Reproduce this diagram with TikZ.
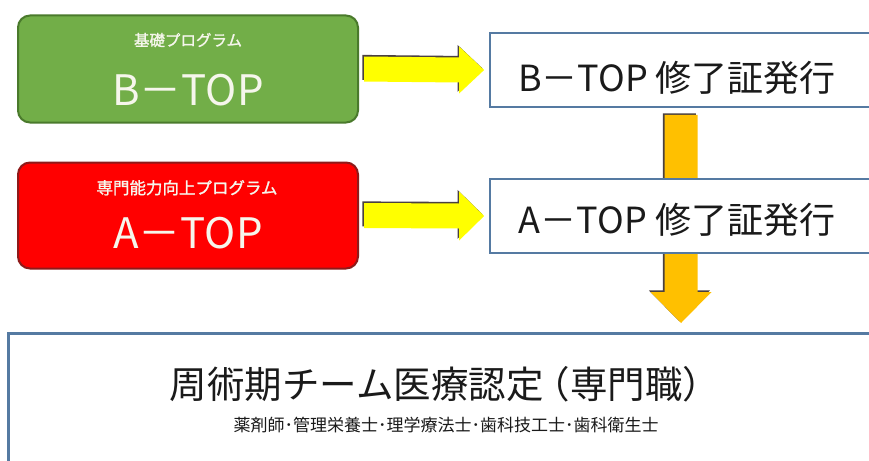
\documentclass[tikz,border=0pt]{standalone}
\usepackage{fontspec}
\setmainfont{Noto Sans CJK JP}
\newfontfamily\cjkbold[FakeBold=1.4]{Noto Sans CJK JP}
\usetikzlibrary{calc}
\definecolor{boxgreen}{HTML}{72AE48}
\definecolor{greenedge}{HTML}{4A7A2C}
\definecolor{boxred}{HTML}{FF0000}
\definecolor{rededge}{HTML}{8E1A1A}
\definecolor{arrowyellow}{HTML}{FFFF00}
\definecolor{arroworange}{HTML}{FFC000}
\definecolor{shadowgrey}{HTML}{4A4040}
\definecolor{frameblue}{HTML}{557AA2}
\definecolor{labelwhite}{HTML}{F6F6EC}
\definecolor{inktext}{HTML}{1A1A1A}
\pgfdeclarelayer{bg}\pgfsetlayers{bg,main}
\newcommand{\rightfatpath}[3]{($(#1)+(0,-12.5)$) -- ($(#2)+(-25,-12.5)$) -- ($(#2)+(-25,-#3)$) -- (#2) -- ($(#2)+(-25,#3)$) -- ($(#2)+(-25,12.5)$) -- ($(#1)+(0,12.5)$) -- cycle}
\newcommand{\downfatpath}[2]{($(#1)+(-16.5,0)$) -- ($(#2)+(-16.5,-31)$) -- ($(#2)+(-30.5,-31)$) -- (#2) -- ($(#2)+(30.5,-31)$) -- ($(#2)+(16.5,-31)$) -- ($(#1)+(16.5,0)$) -- cycle}
\begin{document}
\begin{tikzpicture}[x=1pt,y=-1pt,
  progbox/.style={rounded corners=12pt, line width=2pt, minimum width=340pt, minimum height=107pt, inner sep=0pt},
  certbox/.style={draw=frameblue, line width=1.8pt, fill=white, minimum width=420pt, minimum height=74pt, inner sep=0pt},
  proglabel/.style={text=labelwhite, anchor=base, inner sep=0pt},
  certlabel/.style={text=inktext, anchor=base, inner sep=0pt, font=\fontsize{36}{36}\selectfont},
]
\useasboundingbox (0,0) rectangle (869,460);
\begin{pgfonlayer}{bg}
\fill[white] (0,0) rectangle (869,460);
\end{pgfonlayer}
\clip (0,0) rectangle (869,460);

% program boxes
\node[progbox, fill=boxgreen, draw=greenedge] (bprog) at (188,69) {};
\node[progbox, fill=boxred, draw=rededge, minimum height=106pt] (aprog) at (188,215.5) {};
\node[proglabel, font=\cjkbold\fontsize{15.5}{15.5}\selectfont] (bprogsub) at (188,46) {基礎プログラム};
\node[proglabel, font=\fontsize{42}{42}\selectfont] (bprogname) at (188,105) {B－TOP};
\node[proglabel, font=\cjkbold\fontsize{16.5}{16.5}\selectfont] (aprogsub) at (187,194) {専門能力向上プログラム};
\node[proglabel, font=\fontsize{42}{42}\selectfont] (aprogname) at (188,248) {A－TOP};

% certificate boxes
\node[certbox] (bcert) at (700,70) {};
\node[certbox] (acert) at (700,216) {};
\node[certlabel] (bcerttext) at (677,91) {B－TOP 修了証発行};
\node[certlabel] (acerttext) at (677,233) {A－TOP 修了証発行};

% team box
\node[draw=frameblue, line width=3pt, fill=white, minimum width=900pt, minimum height=200pt, anchor=north west, inner sep=0pt] (team) at (7,332) {};
\node[text=inktext, anchor=base, inner sep=0pt, font=\fontsize{37.5}{37.5}\selectfont] (teamtitle) at (445,398) {\kern-0.3em周術期チーム医療認定\kern-0.3em（専門職）\kern-0.3em};
\node[text=inktext, anchor=base, inner sep=0pt, font=\fontsize{17}{17}\selectfont] (teamsub) at (446,431) {薬剤師･管理栄養士･理学療法士･歯科技工士･歯科衛生士};

\coordinate (flowx) at (681,0);
\begin{pgfonlayer}{bg}
  \begin{scope}[transform canvas={shift={(-1.6,-1.6)}}]
    \fill[shadowgrey] \rightfatpath{$(bprog.east)+(5,0)$}{$(bcert.west)+(-5,0)$}{23.5};
    \fill[shadowgrey] \rightfatpath{$(aprog.east)+(5,0)$}{$(acert.west)+(-5,0)$}{24.5};
    \fill[shadowgrey] \downfatpath{$(flowx |- bcert.south)+(0,7)$}{$(flowx |- team.north)+(0,-9)$};
  \end{scope}
  \fill[arrowyellow] \rightfatpath{$(bprog.east)+(5,0)$}{$(bcert.west)+(-5,0)$}{23.5};
  \fill[arrowyellow] \rightfatpath{$(aprog.east)+(5,0)$}{$(acert.west)+(-5,0)$}{24.5};
  \fill[arroworange] \downfatpath{$(flowx |- bcert.south)+(0,7)$}{$(flowx |- team.north)+(0,-9)$};
\end{pgfonlayer}
\end{tikzpicture}
\end{document}
